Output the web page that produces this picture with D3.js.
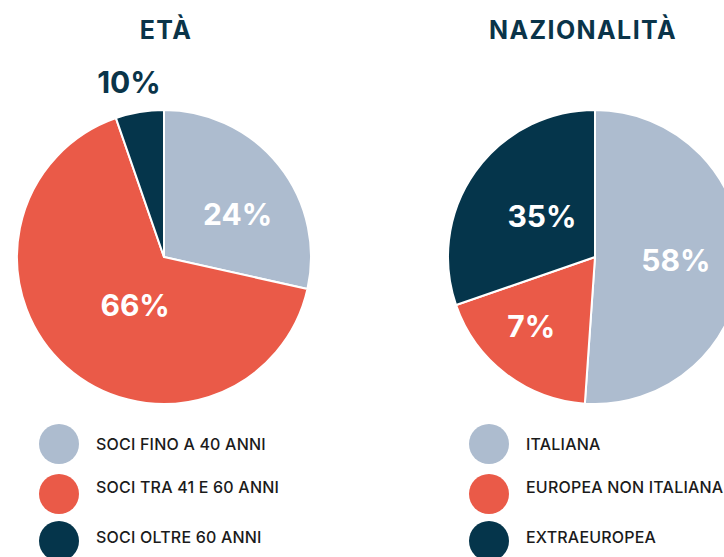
<!DOCTYPE html>
<html>
<head>
<meta charset="utf-8">
<script src="https://cdn.jsdelivr.net/npm/d3@7"></script>
<style>
  html, body { margin: 0; padding: 0; background: #fff; }
  svg { display: block; }
  text { font-family: Inter, "Open Sans", sans-serif; }
</style>
</head>
<body>
<svg id="chart" width="724" height="557"></svg>
<script>
// slice categories, shares (as drawn) and printed labels
const etaCategories = ["SOCI FINO A 40 ANNI", "SOCI TRA 41 E 60 ANNI", "SOCI OLTRE 60 ANNI"];
const etaShares = [28.5, 66.2, 5.3];
const etaLabels = ["24%", "66%", "10%"];

const nazCategories = ["ITALIANA", "EUROPEA NON ITALIANA", "EXTRAEUROPEA"];
const nazShares = [51.1, 18.6, 30.3];
const nazLabels = ["58%", "7%", "35%"];

const colors = ["#adbccf", "#ea5a48", "#05354b"];

const svg = d3.select("#chart");
const radius = 147;

// label placement: fraction along slice angle, distance from centre
const etaLabelPos = [[0.585, 85], [0.455, 56], [0.405, 178]];
const nazLabelPos = [[0.50, 81], [0.58, 94], [0.52, 67]];

function drawPie(opts) {
  const g = svg.append("g").attr("transform", `translate(${opts.cx},${opts.cy})`);

  const pie = d3.pie().sort(null).value(d => d);
  const arcs = pie(opts.shares);
  const arc = d3.arc().innerRadius(0).outerRadius(radius);

  g.selectAll("path")
    .data(arcs)
    .join("path")
    .attr("d", arc)
    .attr("fill", (d, i) => colors[i])
    .attr("stroke", "#fff")
    .attr("stroke-width", 2)
    .attr("stroke-linejoin", "round");

  g.selectAll("text.pct")
    .data(arcs)
    .join("text")
    .attr("class", "pct")
    .attr("transform", (d, i) => {
      const [f, r] = opts.labelPos[i];
      const a = d.startAngle + (d.endAngle - d.startAngle) * f;
      return `translate(${Math.sin(a) * r},${-Math.cos(a) * r})`;
    })
    .attr("text-anchor", "middle")
    .attr("dy", "0.36em")
    .attr("font-size", 30)
    .attr("font-weight", 700)
    .attr("fill", (d, i) => opts.labelOutside[i] ? "#0a3449" : "#fff")
    .text((d, i) => opts.labels[i]);

  svg.append("text")
    .attr("x", opts.titleX)
    .attr("y", 39)
    .attr("text-anchor", "middle")
    .attr("font-size", 25)
    .attr("font-weight", 700)
    .attr("letter-spacing", 1.4)
    .attr("fill", "#0a3449")
    .text(opts.title);

  // legend
  const circleY = [444, 494, 541];
  const textY = [444, 487, 537];
  const lg = svg.append("g");
  lg.selectAll("circle")
    .data(opts.categories)
    .join("circle")
    .attr("cx", opts.legendX)
    .attr("cy", (d, i) => circleY[i])
    .attr("r", 20)
    .attr("fill", (d, i) => colors[i]);
  lg.selectAll("text")
    .data(opts.categories)
    .join("text")
    .attr("x", opts.legendX + 37)
    .attr("y", (d, i) => textY[i])
    .attr("dy", "0.36em")
    .attr("font-size", 16)
    .attr("font-weight", 500)
    .attr("letter-spacing", 0.2)
    .attr("fill", "#1b1b1b")
    .text(d => d);
}

drawPie({
  cx: 164, cy: 257, title: "ETÀ", titleX: 166,
  shares: etaShares, labels: etaLabels, categories: etaCategories,
  labelPos: etaLabelPos, labelOutside: [false, false, true], legendX: 59
});

drawPie({
  cx: 595, cy: 257, title: "NAZIONALITÀ", titleX: 583,
  shares: nazShares, labels: nazLabels, categories: nazCategories,
  labelPos: nazLabelPos, labelOutside: [false, false, false], legendX: 489
});
</script>
</body>
</html>
